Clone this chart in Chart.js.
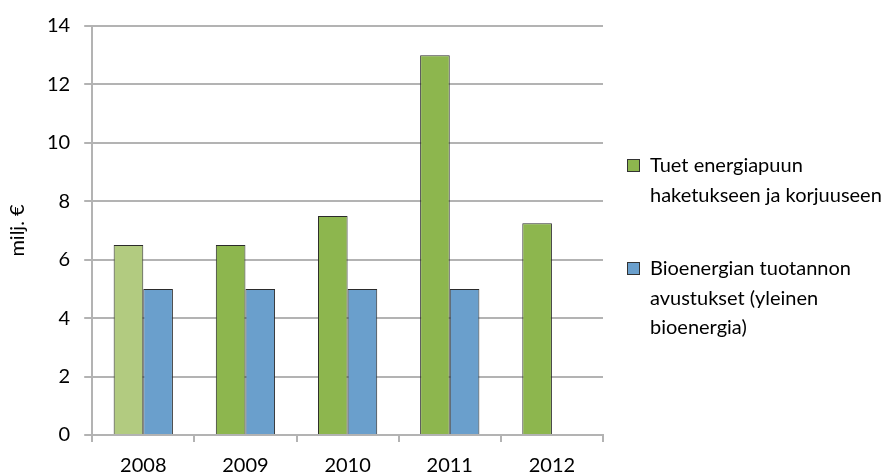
<!DOCTYPE html>
<html lang="fi">
<head>
  <meta charset="UTF-8">
  <title>Bioenergian tuet</title>
  <script src="https://cdn.jsdelivr.net/npm/chart.js"></script>
  <style>
    body {
      margin: 0;
      background: #fff;
      font-family: 'Lato', sans-serif;
    }
    .wrap {
      position: relative;
      width: 887px;
      height: 476px;
    }
    .legend {
      position: absolute;
      left: 627px;
      top: 150px;
      font-size: 20px;
      line-height: 29.5px;
      color: #000;
      white-space: nowrap;
    }
    .item {
      position: relative;
      padding-left: 23px;
      margin-bottom: 44px;
    }
    .box {
      position: absolute;
      left: 0;
      top: 9px;
      width: 11px;
      height: 11px;
      border: 1px solid #333;
    }
  </style>
</head>
<body>
  <div class="wrap">
    <canvas id="chart" width="887" height="476"></canvas>
    <div class="legend">
      <div class="item"><span class="box" style="background:#8db64e"></span>Tuet energiapuun<br>haketukseen ja korjuuseen</div>
      <div class="item"><span class="box" style="background:#6a9fcc"></span>Bioenergian tuotannon<br>avustukset (yleinen<br>bioenergia)</div>
    </div>
  </div>

  <script>
    const years = ['2008', '2009', '2010', '2011', '2012'];
    const haketus = [6.5, 6.5, 7.5, 13, 7.25];
    const yleinen = [5, 5, 5, 5, null];
    const greenColors = ['#b2cb80', '#8db64e', '#8db64e', '#8db64e', '#8db64e'];

    const gray = '#b3b3b3';

    new Chart(document.getElementById('chart'), {
      type: 'bar',
      data: {
        labels: years,
        datasets: [
          {
            label: 'Tuet energiapuun haketukseen ja korjuuseen',
            data: haketus,
            backgroundColor: greenColors,
            borderColor: '#2b2b2b',
            borderWidth: 1
          },
          {
            label: 'Bioenergian tuotannon avustukset (yleinen bioenergia)',
            data: yleinen,
            backgroundColor: '#6a9fcc',
            borderColor: '#2b2b2b',
            borderWidth: 1
          }
        ]
      },
      options: {
        responsive: false,
        animation: false,
        layout: { padding: { left: 6, right: 284, top: 6, bottom: 0 } },
        plugins: {
          legend: { display: false },
          tooltip: { enabled: false }
        },
        datasets: {
          bar: { barPercentage: 1, categoryPercentage: 0.58 }
        },
        scales: {
          x: {
            offset: true,
            afterFit: scale => { scale.height = 41; },
            grid: {
              offset: true,
              color: ctx => ctx.index === years.length ? gray : 'rgba(0,0,0,0)',
              tickColor: gray,
              tickLength: 7,
              lineWidth: 2
            },
            border: { color: gray, width: 2 },
            ticks: { color: '#000', font: { family: 'Lato', size: 20 }, padding: 12 }
          },
          y: {
            min: 0,
            max: 14,
            grid: { color: gray, lineWidth: 2, tickLength: 8 },
            border: { color: gray, width: 2 },
            ticks: { stepSize: 2, color: '#000', font: { family: 'Lato', size: 20 }, padding: 14 },
            title: {
              display: true,
              text: 'milj. €',
              color: '#000',
              font: { family: 'Lato', size: 20 },
              padding: { top: 0, bottom: 3 }
            }
          }
        }
      }
    });
  </script>
</body>
</html>
